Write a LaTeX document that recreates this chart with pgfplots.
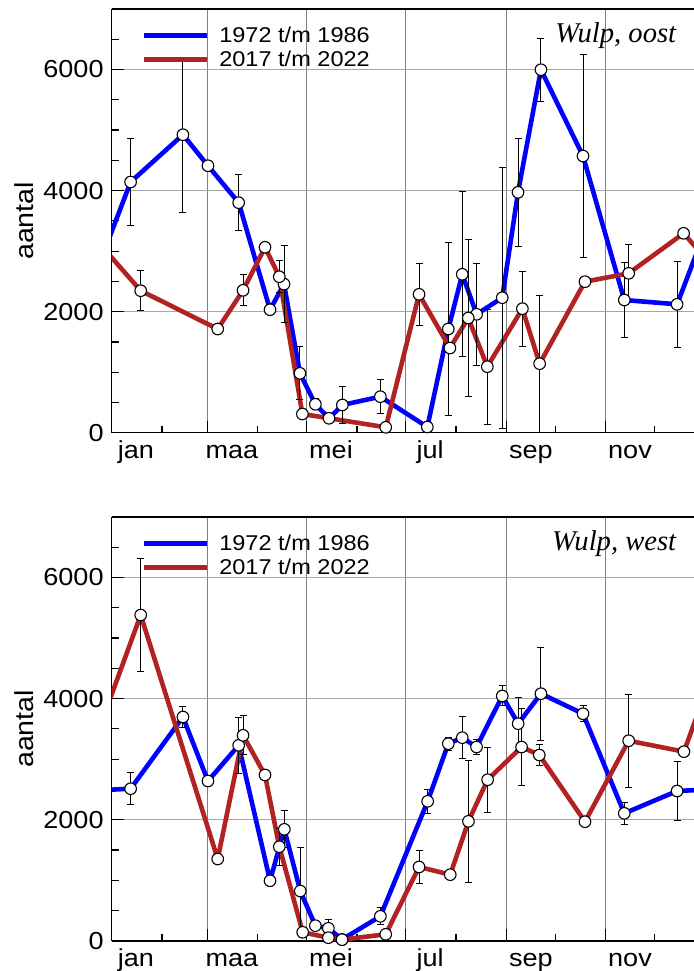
\documentclass[border=0pt]{standalone}
\usepackage{fontspec}
\setmainfont{Liberation Sans}[FakeStretch=1.1]
\newfontfamily\titlefont{Liberation Serif}
\usepackage{pgfplots}
\usepackage{pgfplotstable}
\pgfplotsset{compat=1.18}
\definecolor{wblue}{RGB}{0,0,255}
\definecolor{wred}{RGB}{178,34,34}

% x = day of the year (0 = 1 jan); first and last rows repeat the other end of the year
\pgfplotstableread{
x y e
-17.0 2121 0
11.7 4142 718
43.9 4923 1280
59.3 4411 0
78.2 3800 462
97.5 2032 0
106.1 2455 630
115.9 981 435
125.4 469 90
133.8 238 0
142.0 458 300
165.4 595 286
194.3 94 0
207.2 1713 1429
215.8 2617 1366
224.6 1956 845
240.4 2230 2156
250.1 3971 895
264.2 5997 518
290.1 4571 1680
315.5 2192 625
348.0 2121 714
376.7 4142 0
}\oostblue
\pgfplotstableread{
x y e
-13.0 3294 0
17.9 2346 332
65.3 1713 0
80.9 2352 256
94.4 3063 0
103.2 2577 260
117.4 309 0
168.7 89 0
189.2 2286 517
208.2 1399 0
219.5 1895 1305
231.2 1091 950
252.8 2049 620
263.4 1140 1130
291.3 2495 0
318.2 2633 468
352.0 3294 0
382.9 2346 0
}\oostred
\pgfplotstableread{
x y e
-17.0 2473 0
11.7 2511 267
43.9 3696 168
59.3 2638 0
78.2 3228 465
97.5 991 0
106.3 1840 305
116.1 821 725
125.4 248 80
133.4 205 137
141.8 20 0
165.4 403 143
194.5 2303 196
207.2 3255 105
215.8 3354 345
224.6 3200 116
240.4 4043 165
250.2 3585 441
264.2 4081 770
290.1 3750 128
315.5 2104 187
348.0 2473 495
376.7 2511 0
}\westblue
\pgfplotstableread{
x y e
-12.8 3123 0
17.9 5381 937
65.3 1350 0
80.9 3393 324
94.4 2738 0
103.2 1553 303
117.6 139 0
133.4 50 0
141.8 17 0
168.7 106 0
189.2 1218 275
208.4 1091 0
219.6 1972 1008
231.4 2660 535
252.3 3200 636
263.2 3068 170
291.3 1966 0
318.2 3304 768
352.2 3123 0
382.9 5381 0
}\westred

\pgfplotsset{
  wulp/.style={
    scale only axis, width=291.2pt, height=211.85pt,
    xmin=0, xmax=358.4, ymin=0, ymax=7000,
    axis x line*=box, axis y line*=left,
    axis line style={line width=0.8pt},
    tick align=inside, xtick pos=left, ytick pos=left,
    major tick length=6pt, minor tick length=3.5pt,
    every tick/.style={black, line width=0.6pt},
    xtick={59,120,181,243,304}, xticklabels={},
    minor xtick={31,90,151,212,273,334},
    extra x ticks={15,74,135,196,258,319},
    extra x tick labels={jan,maa,mei,jul,sep,nov},
    extra x tick style={major tick length=0pt, grid=none},
    ytick={0,2000,4000,6000}, yticklabels={0,2000,4000,6000},
    minor ytick={500,1000,...,6500},
    xmajorgrids, ymajorgrids,
    major grid style={gray, line width=0.5pt},
    every major y grid/.append style={black!35, line width=0.75pt},
    ticklabel style={font=\fontsize{12.3}{14}\selectfont},
    xticklabel style={anchor=base, inner sep=0pt, yshift=-12.8pt},
    yticklabel style={anchor=east, inner sep=0pt, xshift=-3.8pt},
    ylabel={aantal},
    every axis y label/.style={at={(axis description cs:-0.1344,0.5)},
      anchor=base, rotate=90, font=\fontsize{13}{15}\selectfont},
    legend style={at={(axis description cs:0.0517,0.9662)}, anchor=north west,
      draw=none, fill=none, inner sep=0pt, outer sep=0pt,
      row sep=0pt, column sep=5pt, font=\fontsize{10.7}{12}\selectfont,
      nodes={anchor=base west, inner sep=0pt, text height=9.7pt, text depth=2.3pt}},
    legend image code/.code={\draw[##1] (0pt,3.7pt) -- (31.5pt,3.7pt);},
  },
  ln/.style={line width=2.3pt, line join=round},
  eb/.style={forget plot, only marks, mark=none, restrict x to domain=0:365,
    error bars/.cd, y dir=both, y explicit,
    error bar style={black, line width=0.5pt},
    error mark options={rotate=90, mark size=1.75pt, black, line width=0.5pt}},
  mk/.style={forget plot, only marks, mark=*, mark size=2.9pt,
    restrict x to domain=0:365,
    mark options={fill=white, draw=black, line width=0.55pt}},
}

\begin{document}
\begin{tikzpicture}
\path[use as bounding box] (0,0) rectangle (347pt,485.5pt);

\begin{axis}[wulp, at={(55.8pt,269.15pt)}, anchor=south west]
\addplot[ln, wblue] table[x=x, y=y] {\oostblue};
\addlegendentry{1972 t/m 1986}
\addplot[ln, wred] table[x=x, y=y] {\oostred};
\addlegendentry{2017 t/m 2022}
\addplot[eb] table[x=x, y=y, y error=e] {\oostblue};
\addplot[eb] table[x=x, y=y, y error=e] {\oostred};
\addplot[mk] table[x=x, y=y] {\oostblue};
\addplot[mk] table[x=x, y=y] {\oostred};
\node[anchor=base east, font=\titlefont\itshape\fontsize{14.3}{17}\selectfont]
  at (rel axis cs:0.9815,0.9205) {Wulp, oost};
\end{axis}

\begin{axis}[wulp, at={(55.8pt,15.15pt)}, anchor=south west]
\addplot[ln, wblue] table[x=x, y=y] {\westblue};
\addlegendentry{1972 t/m 1986}
\addplot[ln, wred] table[x=x, y=y] {\westred};
\addlegendentry{2017 t/m 2022}
\addplot[eb] table[x=x, y=y, y error=e] {\westblue};
\addplot[eb] table[x=x, y=y, y error=e] {\westred};
\addplot[mk] table[x=x, y=y] {\westblue};
\addplot[mk] table[x=x, y=y] {\westred};
\node[anchor=base east, font=\titlefont\itshape\fontsize{14.3}{17}\selectfont]
  at (rel axis cs:0.9815,0.9205) {Wulp, west};
\end{axis}
\end{tikzpicture}
\end{document}
